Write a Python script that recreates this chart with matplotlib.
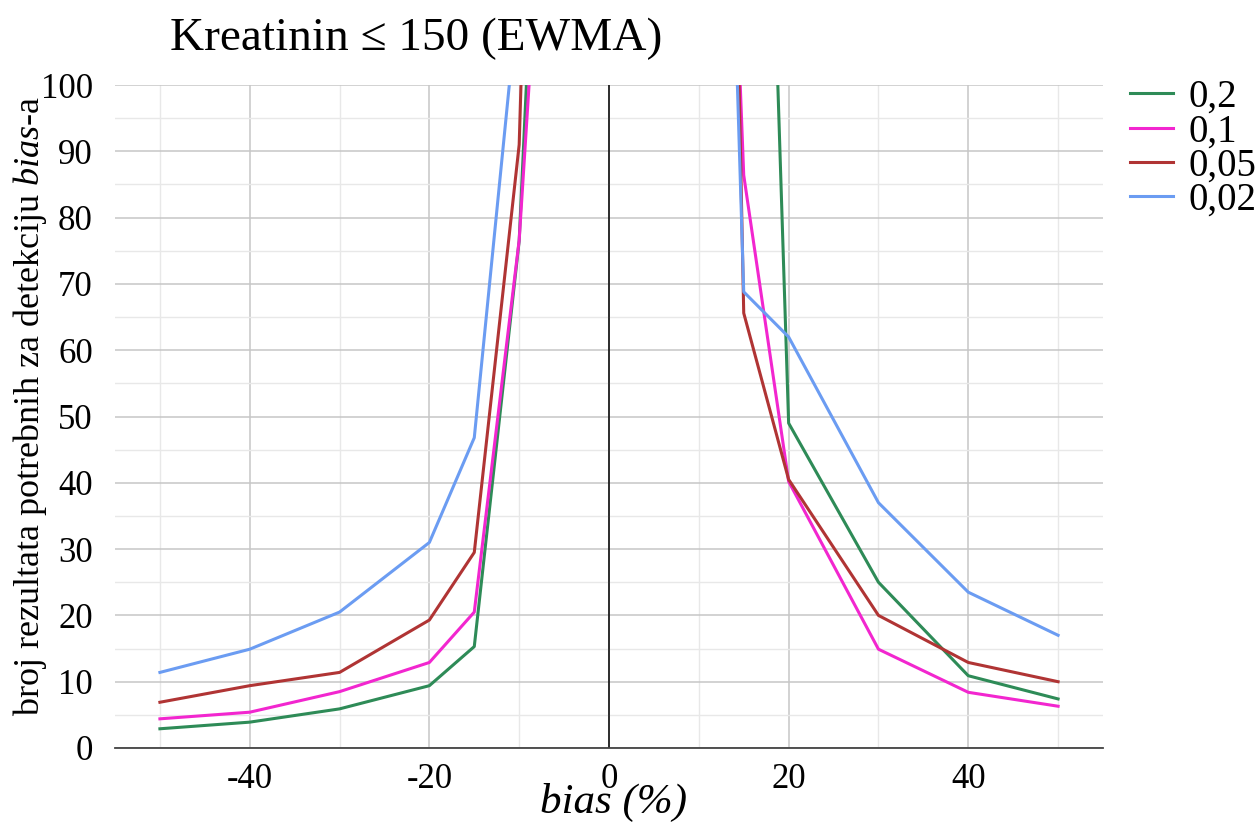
import numpy as np
import matplotlib
matplotlib.use("Agg")
import matplotlib.pyplot as plt
from matplotlib.ticker import MultipleLocator, FixedLocator

plt.rcParams['font.family'] = ['Liberation Serif', 'DejaVu Serif']
plt.rcParams['mathtext.fontset'] = 'custom'
plt.rcParams['mathtext.rm'] = 'Liberation Serif'
plt.rcParams['mathtext.it'] = 'Liberation Serif:italic'
plt.rcParams['axes.unicode_minus'] = False

# Data (bias %, number of results needed); NaN separates the two branches
bias = [-50, -40, -30, -20, -15, -10, -5, 0, 10, 15, 20, 30, 40, 50]
nan = np.nan
s_02 = [2.9, 3.9, 5.9, 9.4, 15.3, 76.5, 223, nan, nan, 261, 49, 25, 10.9, 7.4]
s_01 = [4.4, 5.4, 8.5, 12.9, 20.5, 76.6, 183, nan, 261, 86.4, 40.2, 14.9, 8.4, 6.3]
s_005 = [6.9, 9.4, 11.4, 19.3, 29.5, 91, 316, nan, 400, 65.6, 40.5, 20, 12.9, 10.0]
s_002 = [11.4, 14.9, 20.5, 31, 46.8, 115, nan, nan, 290, 68.8, 62, 37, 23.5, 17.0]
labels = ['0,2', '0,1', '0,05', '0,02']
colors = ['#2e8b57', '#f226cf', '#b03434', '#6b9cf2']
series = [s_02, s_01, s_005, s_002]

W, H = 1259, 823
fig = plt.figure(figsize=(W / 100, H / 100), dpi=100)
ax = fig.add_axes([115 / W, 1 - 748 / H, (1103 - 115) / W, (748 - 85) / H])

ax.set_xlim(-55, 55)
ax.set_ylim(0, 100)

ax.xaxis.set_major_locator(FixedLocator([-40, -20, 0, 20, 40]))
ax.xaxis.set_minor_locator(FixedLocator([-50, -30, -10, 10, 30, 50]))
ax.yaxis.set_major_locator(MultipleLocator(10))
ax.yaxis.set_minor_locator(MultipleLocator(5))

ax.grid(which='major', axis='both', color='#c6c6c6', lw=1.1)
ax.grid(which='minor', axis='both', color='#e8e8e8', lw=1.0)
ax.set_axisbelow(True)

ax.axvline(0, color='black', lw=1.1, zorder=1.5)

for ys, c, lab in zip(series, colors, labels):
    ax.plot(bias, ys, color=c, lw=2.2, label=lab, zorder=3)

for sp in ['left', 'right', 'top']:
    ax.spines[sp].set_visible(False)
ax.spines['bottom'].set_color('#444444')
ax.spines['bottom'].set_linewidth(1.3)

ax.tick_params(which='both', length=0)
ax.tick_params(axis='x', labelsize=25, pad=11)
ax.tick_params(axis='y', labelsize=25, pad=16)

fig.text(614 / W, 1 - 813 / H, 'bias (%)', fontsize=31, style='italic',
         ha='center', va='baseline')
fig.text(30 / W, 1 - 406 / H, 'broj rezultata potrebnih za detekciju $\\mathit{bias}$-a',
         fontsize=26, rotation=90, ha='center', va='center')

fig.text(170 / W, 1 - 39 / H, 'Kreatinin \u2264 150 (EWMA)', fontsize=34,
         ha='left', va='center')

leg = ax.legend(loc='upper left', bbox_to_anchor=(1.0, 1.05), frameon=False,
                fontsize=28, labelspacing=-0.07, handlelength=1.1,
                handletextpad=0.4, borderaxespad=0.3)

fig.savefig('out.png', dpi=100)
